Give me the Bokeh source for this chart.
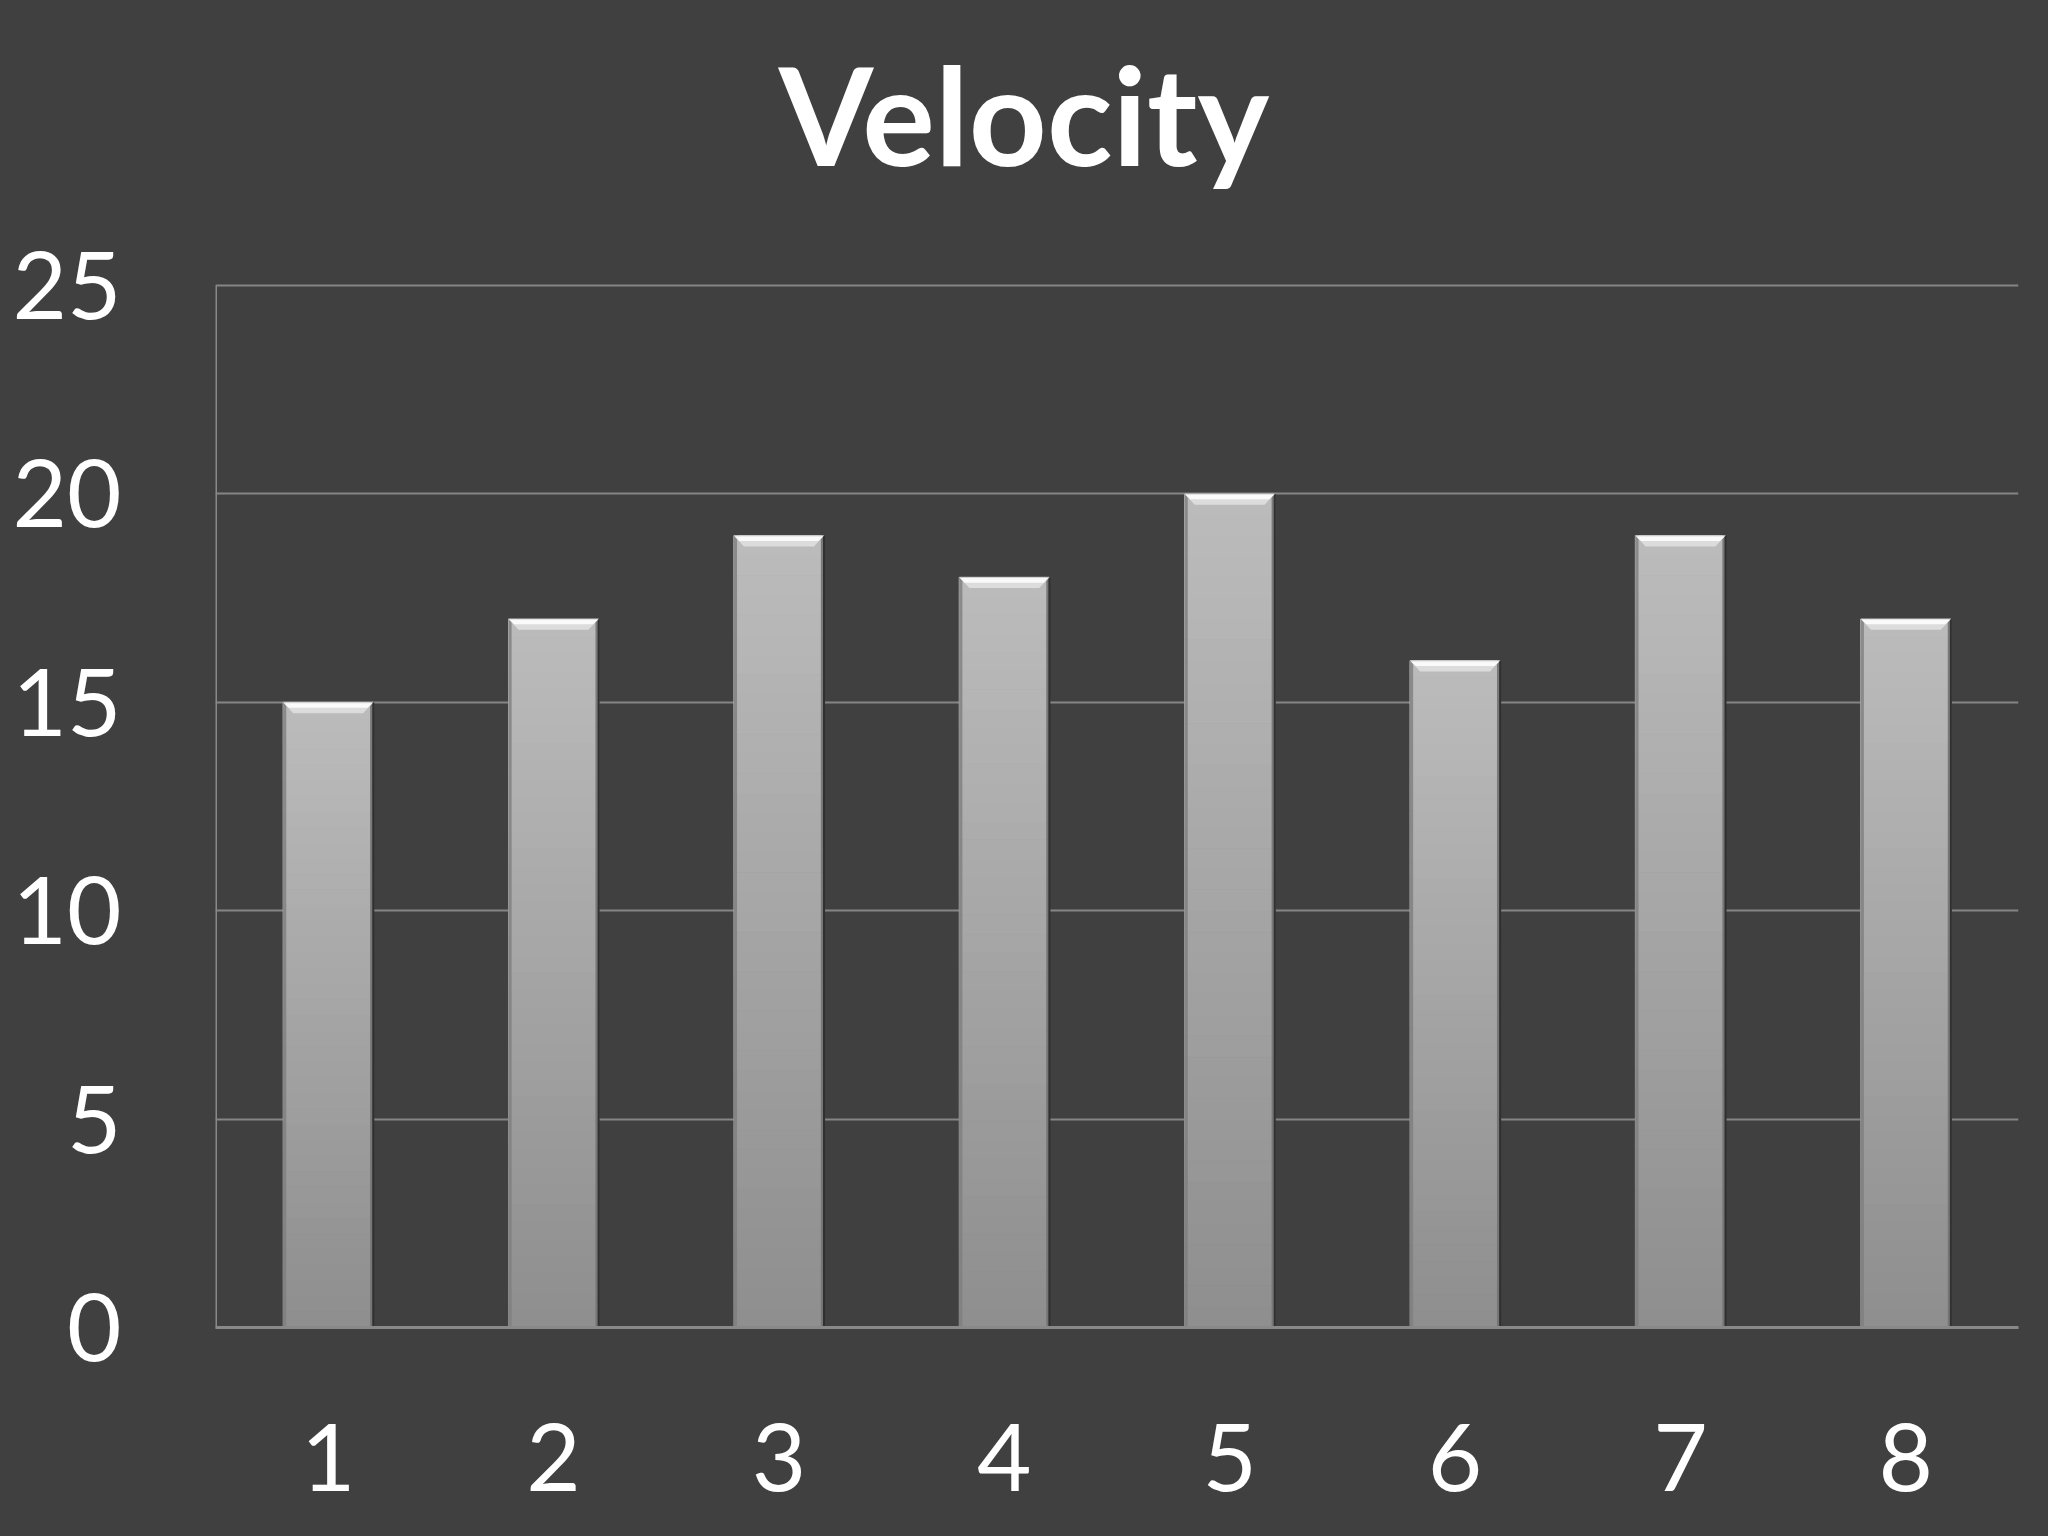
from bokeh.plotting import figure
from bokeh.models import Range1d, FixedTicker
from bokeh.core.properties import value
from bokeh.embed import file_html
from bokeh.resources import INLINE

# ---- data ----
categories = [1, 2, 3, 4, 5, 6, 7, 8]
velocity = [15, 17, 19, 18, 20, 16, 19, 17]
y_ticks = [0, 5, 10, 15, 20, 25]
title_text = "Velocity"

BG = "#404040"
FONT = "Lato"

# ---- geometry (pixels) ----
W, H = 2040, 1528
LEFT, RIGHT, BOTTOM = 215, 22, 201
AXIS_TOP_PX = 285            # where the top value (25) sits, from page top
FRAME_H = H - BOTTOM         # frame spans from the very top down to the x axis
y_max = y_ticks[-1]
y_end = y_max * FRAME_H / (FRAME_H - AXIS_TOP_PX)

p = figure(width=W, height=H, output_backend="svg", toolbar_location=None,
           x_range=Range1d(0.5, 8.5), y_range=Range1d(0, y_end),
           min_border_left=LEFT, min_border_right=RIGHT, min_border_top=0,
           min_border_bottom=BOTTOM)
p.background_fill_color = BG
p.border_fill_color = BG
p.outline_line_color = None

# title (anchored above the top of the value axis)
p.text(x=[(categories[0] + categories[-1]) / 2], y=[y_max], text=[title_text],
       x_offset=-93, y_offset=-172, text_align="center", text_baseline="alphabetic",
       text_font=value(FONT), text_font_style="bold", text_font_size="136px",
       text_color="white")

# bars: vertical gradient made of stacked bands (relative to bar height)
half = 0.2
n_bands = 40
top_rgb = (188, 188, 188)
bot_rgb = (142, 142, 142)
bl, br, bb, bt, bc = [], [], [], [], []
for c, v in zip(categories, velocity):
    for k in range(n_bands):
        f0 = k / n_bands
        f1 = (k + 1) / n_bands
        t = (f0 + f1) / 2
        rgb = tuple(int(round(bot_rgb[i] + (top_rgb[i] - bot_rgb[i]) * t)) for i in range(3))
        bl.append(c - half)
        br.append(c + half)
        bb.append(v * f0)
        bt.append(v * f1)
        bc.append("#%02x%02x%02x" % rgb)
p.quad(left=bl, right=br, bottom=bb, top=bt, fill_color=bc, line_color=bc, line_width=1)

# darker side edges
edge = 0.014
cats = categories
p.quad(left=[c - half for c in cats], right=[c - half + edge for c in cats],
       bottom=[0] * len(cats), top=velocity, fill_color="#7e7e7e", line_color=None, fill_alpha=0.8)
p.quad(left=[c + half - edge for c in cats], right=[c + half for c in cats],
       bottom=[0] * len(cats), top=velocity, fill_color="#727272", line_color=None, fill_alpha=0.9)
p.segment(x0=[c + half for c in cats], y0=[0] * len(cats), x1=[c + half for c in cats], y1=velocity,
          line_color="#303030", line_width=2)

# top bevel (trapezoid highlight)
bev_h = 0.26
inset = 0.045
xs1, ys1, xs2, ys2 = [], [], [], []
for c, v in zip(categories, velocity):
    xs1.append([c - half, c + half, c + half - inset, c - half + inset])
    ys1.append([v, v, v - bev_h, v - bev_h])
    xs2.append([c - half + 0.004, c + half - 0.004, c + half - inset * 0.55, c - half + inset * 0.55])
    ys2.append([v - 0.02, v - 0.02, v - bev_h * 0.5, v - bev_h * 0.5])
p.patches(xs=xs1, ys=ys1, fill_color="#dcdcdc", line_color=None)
p.patches(xs=xs2, ys=ys2, fill_color="#fafafa", line_color=None)

# axes
p.xaxis.ticker = FixedTicker(ticks=categories)
p.yaxis.ticker = FixedTicker(ticks=y_ticks)
for ax in (p.xaxis, p.yaxis):
    ax.axis_line_color = "#898989"
    ax.axis_line_width = 3
    ax.major_tick_line_color = None
    ax.minor_tick_line_color = None
    ax.major_tick_out = 0
    ax.major_tick_in = 0
    ax.major_label_text_font = FONT
    ax.major_label_text_font_size = "94px"
    ax.major_label_text_color = "white"
p.yaxis.major_label_standoff = 94
p.xaxis.major_label_standoff = 96
# value axis line only spans 0..25
p.yaxis.axis_line_color = None
p.segment(x0=[p.x_range.start], y0=[y_ticks[0]], x1=[p.x_range.start], y1=[y_max],
          line_color="#898989", line_width=3)

p.xgrid.grid_line_color = None
p.ygrid.grid_line_color = "#858585"
p.ygrid.grid_line_width = 2

html = file_html(p, INLINE, title="Velocity")
html = html.replace("<head>", "<head><style>html,body{background:#404040;}</style>", 1)
with open("out.html", "w") as f:
    f.write(html)
